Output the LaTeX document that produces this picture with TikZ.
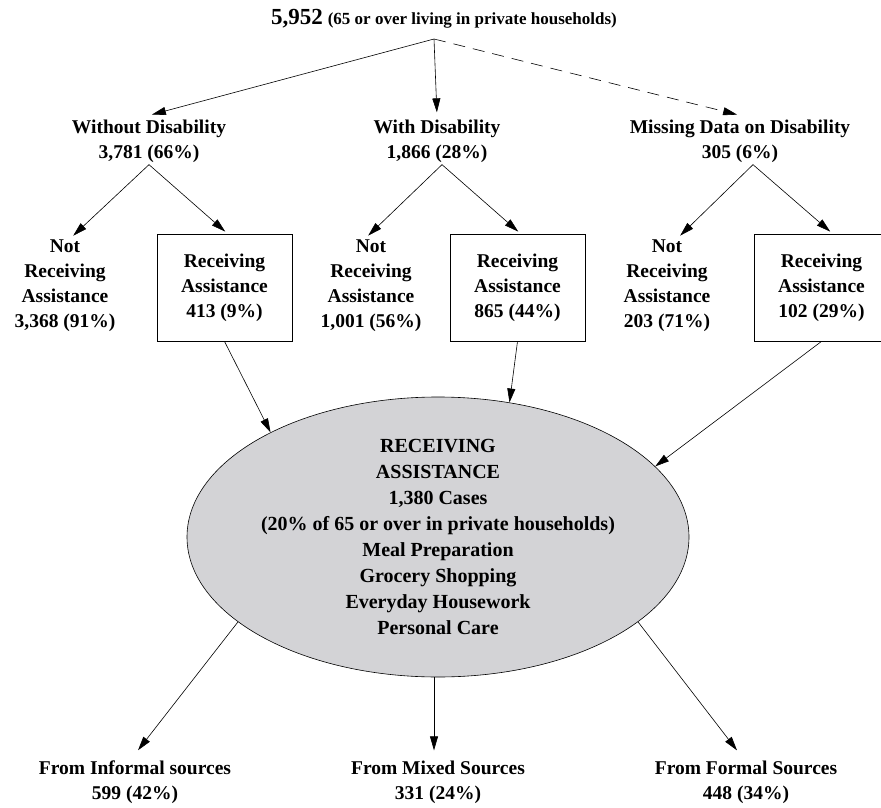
\documentclass[tikz,border=0pt]{standalone}
\usepackage{fontspec}
\setmainfont{Liberation Serif}
\usepackage{xcolor}
\usetikzlibrary{arrows.meta, shapes.geometric}
\definecolor{hubgray}{RGB}{211,211,214}

\begin{document}
\begin{tikzpicture}[
        x=1pt, y=-1pt,
        line width=0.6pt,
        font=\fontsize{19.5}{25}\selectfont\bfseries,
        >={Triangle[length=14pt,width=8pt]},
        lbl/.style={align=center, inner sep=2pt},
        recvbox/.style={lbl, draw, line width=0.8pt,
            minimum width=135pt, minimum height=107pt},
        hub/.style={ellipse, draw, fill=hubgray, align=center,
            inner sep=0pt, minimum width=502pt, minimum height=280pt,
            font=\fontsize{20}{26}\selectfont\bfseries},
        link/.style={->, shorten >=3pt},
    ]

    \path[use as bounding box, clip] (0,0) rectangle (881,808);

    % Levels
    \def\ycat{141}
    \def\ysub{286}
    \def\ybot{782}

    % Top
    \node[lbl] (total) at (444,19)
        {{\fontsize{23}{25}\selectfont 5,952}
         {\fontsize{17}{25}\selectfont (65 or over living in private households)}};
    \coordinate (split) at (434,39);

    % Disability status
    \node[lbl] (without) at (149,\ycat) {Without Disability\\3,781 (66\%)};
    \node[lbl] (with) at (437,\ycat) {With Disability\\1,866 (28\%)};
    \node[lbl] (missing) at (740,\ycat) {Missing Data on Disability\\305 (6\%)};

    \draw[link] (split) -- ([yshift=2pt]without.north);
    \draw[link] (split) -- ([yshift=2pt]with.north);
    \draw[link, dash pattern=on 12pt off 8pt] (split) -- ([yshift=2pt]missing.north);

    % Assistance
    \node[lbl] (withoutnot) at (65,\ysub)
        {Not\\Receiving\\Assistance\\3,368 (91\%)};
    \node[recvbox] (withoutbox) at (224.5,287.5)
        {Receiving\\Assistance\\413 (9\%)};
    \node[lbl] (withnot) at (371,\ysub)
        {Not\\Receiving\\Assistance\\1,001 (56\%)};
    \node[recvbox] (withbox) at (517.5,287.5)
        {Receiving\\Assistance\\865 (44\%)};
    \node[lbl] (missingnot) at (667,\ysub)
        {Not\\Receiving\\Assistance\\203 (71\%)};
    \node[recvbox] (missingbox) at (821.5,287.5)
        {Receiving\\Assistance\\102 (29\%)};

    \draw[link] (without.south) -- ([xshift=6pt]withoutnot.north);
    \draw[link] (without.south) -- ([xshift=3pt]withoutbox.north);
    \draw[link] ([xshift=5pt]with.south) -- ([xshift=-5pt]withnot.north);
    \draw[link] ([xshift=5pt]with.south) -- ([xshift=3pt]withbox.north);
    \draw[link] ([xshift=13pt]missing.south) -- ([xshift=11pt]missingnot.north);
    \draw[link] ([xshift=13pt]missing.south) -- ([xshift=11pt]missingbox.north);

    % Receiving assistance
    \node[hub] (hub) at (438,537)
        {RECEIVING\\ASSISTANCE\\1,380 Cases\\
         (20\% of 65 or over in private households)\\
         Meal Preparation\\Grocery Shopping\\Everyday Housework\\Personal Care};

    \draw[->] (withoutbox.south) -- (hub.148);
    \draw[->] (withbox.south) -- (hub.62);
    \draw[->] (missingbox.south) -- (hub.18);

    % Sources
    \node[lbl] (informal) at (135,\ybot) {From Informal sources\\599 (42\%)};
    \node[lbl] (mixed) at (438,\ybot) {From Mixed Sources\\331 (24\%)};
    \node[lbl] (formal) at (746,\ybot) {From Formal Sources\\448 (34\%)};

    \draw[->] (hub.203) -- ([xshift=3pt, yshift=8pt]informal.north);
    \draw[->] ([xshift=-4pt]hub.south) -- ([xshift=-4pt, yshift=8pt]mixed.north);
    \draw[->] (hub.-23) -- ([xshift=-9pt, yshift=8pt]formal.north);

\end{tikzpicture}
\end{document}
